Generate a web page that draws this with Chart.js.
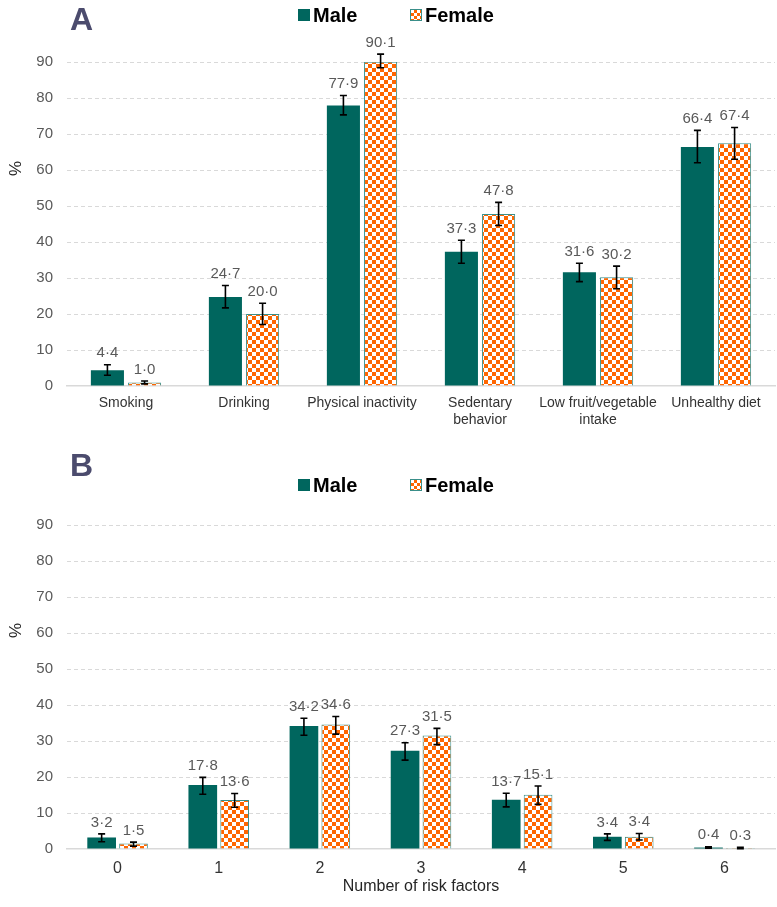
<!DOCTYPE html>
<html><head><meta charset="utf-8">
<script src="https://cdn.jsdelivr.net/npm/chart.js@4.4.1/dist/chart.umd.min.js"></script>
<style>
body{margin:0;background:#fff;width:777px;height:907px;overflow:hidden;position:relative;font-family:"Liberation Sans",Arial,sans-serif;}
.panel{position:absolute;left:0;width:777px;}
.letter{position:absolute;font-weight:bold;font-size:32px;line-height:32px;color:#4b4b6d;}
.ylab{position:absolute;font-size:17px;line-height:17px;color:#262626;transform:rotate(-90deg);}
.lg{position:absolute;font-weight:bold;font-size:20px;line-height:20px;color:#000;}
.box{position:absolute;width:12px;height:12px;}
.male{background:#00665e;}
.female{box-sizing:border-box;border:1px solid #3a8f8a;background:repeating-conic-gradient(#ff6600 0 25%,#ffffff 0 50%) 0 0/6px 6px;}
</style></head><body>
<div class="panel" style="top:0;height:445px"><canvas id="ca" width="777" height="445"></canvas></div>
<div class="panel" style="top:450px;height:457px"><canvas id="cb" width="777" height="457"></canvas></div>
<div class="letter" style="left:70px;top:3px">A</div>
<div class="letter" style="left:70px;top:449px">B</div>
<div class="ylab" style="left:8px;top:160px">%</div>
<div class="ylab" style="left:8px;top:622px">%</div>
<div class="box male" style="left:298px;top:9px"></div><div class="lg" style="left:313px;top:5px">Male</div>
<div class="box female" style="left:410px;top:9px"></div><div class="lg" style="left:425px;top:5px">Female</div>
<div class="box male" style="left:298px;top:479px"></div><div class="lg" style="left:313px;top:475px">Male</div>
<div class="box female" style="left:410px;top:479px"></div><div class="lg" style="left:425px;top:475px">Female</div>
<script>
const catsA = ["Smoking","Drinking","Physical inactivity",["Sedentary","behavior"],["Low fruit/vegetable","intake"],"Unhealthy diet"];
const maleA = [4.4,24.7,77.9,37.3,31.6,66.4];
const maleALo = [3.0,21.7,75.3,34.1,29.0,62.0];
const maleAHi = [5.9,27.9,80.7,40.5,34.1,71.0];
const femaleA = [1.0,20.0,90.1,47.8,30.2,67.4];
const femaleALo = [0.6,17.1,88.4,44.6,27.0,63.0];
const femaleAHi = [1.4,23.0,92.2,51.0,33.3,71.8];

const catsB = ["0","1","2","3","4","5","6"];
const maleB = [3.2,17.8,34.2,27.3,13.7,3.4,0.4];
const maleBLo = [2.0,15.2,31.6,24.7,11.7,2.4,0.2];
const maleBHi = [4.2,19.9,36.3,29.5,15.5,4.2,0.6];
const femaleB = [1.5,13.6,34.6,31.5,15.1,3.4,0.3];
const femaleBLo = [0.8,11.6,31.9,29.0,12.4,2.5,0.1];
const femaleBHi = [1.9,15.4,36.8,33.5,17.5,4.3,0.5];

const yMin = 0, yMax = 90, yStep = 10;

const FONT = '"Liberation Sans", Arial, sans-serif';
const MALE = '#00665e', ORANGE = '#ff6600', FBORDER = '#3a8f8a';

function checker(){
  const c = document.createElement('canvas'); c.width = 8; c.height = 8;
  const g = c.getContext('2d');
  g.fillStyle = '#ffffff'; g.fillRect(0,0,8,8);
  g.fillStyle = ORANGE; g.fillRect(0,0,4,4); g.fillRect(4,4,4,4);
  return g.createPattern(c,'repeat');
}
const fmt = v => v.toFixed(1).replace('.', '\u00b7');

const errPlugin = {
  id: 'errbars',
  afterDatasetsDraw(chart){
    const ctx = chart.ctx, y = chart.scales.y;
    chart.data.datasets.forEach((ds,i)=>{
      const meta = chart.getDatasetMeta(i);
      meta.data.forEach((bar,j)=>{
        const x = bar.x;
        const yl = y.getPixelForValue(ds.lo[j]), yh = y.getPixelForValue(ds.hi[j]);
        ctx.save();
        ctx.strokeStyle = '#000'; ctx.lineWidth = 1.6;
        ctx.beginPath();
        ctx.moveTo(x,yl); ctx.lineTo(x,yh);
        ctx.moveTo(x-3.5,yl); ctx.lineTo(x+3.5,yl);
        ctx.moveTo(x-3.5,yh); ctx.lineTo(x+3.5,yh);
        ctx.stroke();
        ctx.fillStyle = '#595959';
        ctx.font = '15px ' + FONT;
        ctx.textAlign = 'center'; ctx.textBaseline = 'bottom';
        ctx.fillText(fmt(ds.data[j]), x, yh - 4);
        ctx.restore();
      });
    });
  }
};

function makeChart(id, cats, m, mLo, mHi, f, fLo, fHi, opt){
  const pat = checker();
  return new Chart(document.getElementById(id), {
    type: 'bar',
    data: {
      labels: cats,
      datasets: [
        {label:'Male', data:m, lo:mLo, hi:mHi, backgroundColor:MALE, borderWidth:0,
         categoryPercentage:opt.cp, barPercentage:opt.bp},
        {label:'Female', data:f, lo:fLo, hi:fHi, backgroundColor:pat, borderColor:FBORDER, borderWidth:1,
         categoryPercentage:opt.cp, barPercentage:opt.bp}
      ]
    },
    options: {
      responsive:false, animation:false, devicePixelRatio:1,
      layout:{padding:{top:opt.top, right:2, left:0, bottom:0}},
      plugins:{legend:{display:false}, tooltip:{enabled:false}},
      scales:{
        x:{
          grid:{display:false, drawTicks:false},
          border:{display:true, color:'#d9d9d9', width:1.5},
          ticks:{color:opt.xTickColor, font:{family:FONT, size:opt.xFont}, padding:opt.xPad, maxRotation:0, autoSkip:false},
          title:{display:!!opt.xTitle, text:opt.xTitle||'', color:'#262626', font:{family:FONT,size:16}, padding:{top:4,bottom:opt.xTitlePadB||0}},
          afterFit: s => { s.height = opt.xH; }
        },
        y:{
          min:yMin, max:yMax,
          ticks:{stepSize:yStep, color:'#595959', font:{family:FONT, size:15}, padding:14},
          grid:{drawTicks:false, color: c => c.tick.value === 0 ? 'rgba(0,0,0,0)' : '#d9d9d9', lineWidth:1},
          border:{display:false, dash:[4,3]},
          afterFit: s => { s.width = 67; }
        }
      }
    },
    plugins:[errPlugin]
  });
}

makeChart('ca', catsA, maleA, maleALo, maleAHi, femaleA, femaleALo, femaleAHi,
  {cp:0.63, bp:0.89, top:62, xH:59, xFont:14, xPad:9, xTickColor:'#333333'});
makeChart('cb', catsB, maleB, maleBLo, maleBHi, femaleB, femaleBLo, femaleBHi,
  {cp:0.63, bp:0.9, top:75, xH:58, xFont:16, xPad:10, xTickColor:'#333333', xTitle:'Number of risk factors', xTitlePadB:11});
</script>
</body></html>
